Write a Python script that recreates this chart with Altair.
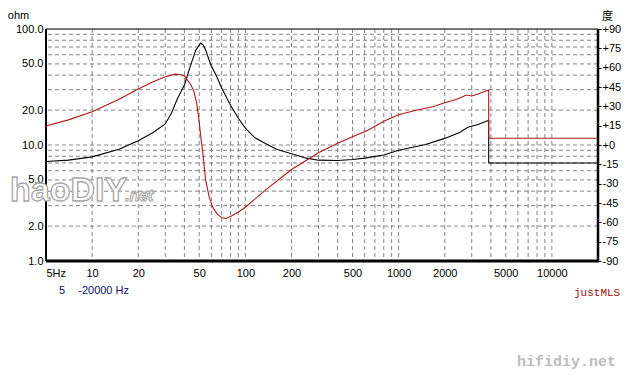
import altair as alt
import pandas as pd

# ---------------- data ----------------
imp_freq = [5, 7, 10, 15, 20, 25, 30, 33, 36, 40, 44, 47.5, 51, 53, 55, 58, 60, 65, 70, 80,
            90, 100, 115, 135, 160, 200, 250, 300, 400, 500, 600, 800, 1000, 1500, 2000,
            2500, 2830, 3300, 3800, 3870, 3870, 20000]
imp_ohm = [7.2, 7.4, 7.9, 9.2, 10.9, 12.8, 15.2, 19.0, 25.0, 32.9, 49.0, 66.0, 75.4, 73.0,
           66.0, 54.0, 48.0, 39.0, 31.0, 22.0, 17.0, 14.0, 11.6, 10.3, 9.2, 8.4, 7.7, 7.4,
           7.35, 7.5, 7.7, 8.2, 9.0, 10.1, 11.4, 12.8, 14.2, 15.0, 16.2, 16.3, 7.0, 7.0]

ph_freq = [5, 7, 10, 15, 20, 25, 30, 35, 38, 40, 44, 46, 48, 49.5, 51, 52.5, 55, 58, 61, 65,
           70, 75, 81, 90, 100, 135, 200, 300, 400, 500, 635, 800, 1000, 1300, 1670, 2000,
           2400, 2770, 3000, 3300, 3870, 3870, 20000]
ph_deg = [14.7, 19.5, 25.8, 35.5, 43.5, 49.0, 53.0, 55.0, 54.5, 53.5, 47.0, 42.0, 33.0, 22.0,
          8.0, -4.0, -27.0, -40.0, -48.0, -53.0, -56.5, -57.0, -55.0, -52.0, -48.3, -35.0,
          -19.0, -6.0, 1.3, 6.4, 11.6, 18.5, 23.5, 27.0, 29.7, 32.8, 35.5, 38.8, 38.0, 39.5,
          42.7, 5.2, 5.2]

grid_freq = [10, 20, 30, 40, 50, 60, 70, 80, 90,
             100, 200, 300, 400, 500, 600, 700, 800, 900,
             1000, 2000, 3000, 4000, 5000, 6000, 7000, 8000, 9000, 10000]
grid_ohm = [2, 3, 4, 5, 6, 7, 8, 9, 10, 20, 30, 40, 50, 60, 70, 80, 90]

x_ticks = [5, 10, 20, 50, 100, 200, 500, 1000, 2000, 5000, 10000]
ohm_ticks = [1, 2, 5, 10, 20, 50, 100]
deg_ticks = [-90, -75, -60, -45, -30, -15, 0, 15, 30, 45, 60, 75, 90]

W, H = 552, 232
FONT = "Liberation Sans"

imp_df = pd.DataFrame({"f": imp_freq, "ohm": imp_ohm, "i": range(len(imp_freq))})
ph_df = pd.DataFrame({"f": ph_freq, "deg": ph_deg, "i": range(len(ph_freq))})
gx_df = pd.DataFrame({"f": grid_freq})
gy_df = pd.DataFrame({"ohm": grid_ohm})

xscale = alt.Scale(type="log", domain=[5, 20000], nice=False)
yscale = alt.Scale(type="log", domain=[1, 100], nice=False)
pscale = alt.Scale(domain=[-90, 90], nice=False, zero=False)

xaxis = alt.Axis(values=x_ticks, title=None, grid=False, ticks=False, tickSize=0, domain=False,
                 labelExpr="datum.value == 5 ? '5Hz' : format(datum.value, 'd')",
                 labelPadding=6, labelFont=FONT, labelFontSize=11, labelColor="black",
                 labelFlush=True, labelOverlap=False)

X = alt.X("f:Q", scale=xscale, axis=xaxis)

grid_x = alt.Chart(gx_df).mark_rule(color="#858585", strokeDash=[4, 3], strokeWidth=1).encode(x=X)

grid_y = alt.Chart(gy_df).mark_rule(color="#858585", strokeDash=[4, 3], strokeWidth=1).encode(
    y=alt.Y("ohm:Q", scale=yscale,
            axis=alt.Axis(values=ohm_ticks, title="ohm", grid=False, ticks=False, tickSize=0,
                          domain=False, labelExpr="format(datum.value, '.1f')",
                          labelPadding=3, labelFont=FONT, labelFontSize=11, labelColor="black",
                          labelOverlap=False, labelFlush=False,
                          titleAngle=0, titleX=-28, titleY=-14, titleAlign="center",
                          titleBaseline="middle", titleFont=FONT, titleFontSize=11,
                          titleFontWeight="normal", titleColor="black"))
)

imp_line = alt.Chart(imp_df).mark_line(color="black", strokeWidth=1.1).encode(
    x=X, y=alt.Y("ohm:Q", scale=yscale), order="i:Q"
)

ph_line = alt.Chart(ph_df).mark_line(color="#b01818", strokeWidth=1.1).encode(
    x=X,
    y=alt.Y("deg:Q", scale=pscale,
            axis=alt.Axis(orient="right", values=deg_ticks, title="度", grid=False, ticks=True,
                          tickSize=3, tickColor="black", domain=False,
                          labelExpr="datum.value >= 0 ? '+' + datum.value : '' + datum.value",
                          labelPadding=1, labelFont=FONT, labelFontSize=11, labelColor="black",
                          labelOverlap=False, labelFlush=False,
                          titleAngle=0, titleX=9, titleY=-13, titleAlign="center",
                          titleBaseline="middle", titleFont="Noto Sans CJK SC", titleFontSize=11,
                          titleFontWeight="normal", titleColor="black")),
    order="i:Q",
)

one = pd.DataFrame({"k": [0]})

def frame(x1, x2, y1, y2, w):
    return alt.Chart(one).mark_rule(color="black", strokeWidth=w).encode(
        x=alt.value(x1), x2=alt.value(x2), y=alt.value(y1), y2=alt.value(y2))

frame_top = frame(0, W, 0, 0, 1)
frame_left = frame(0, 0, 0, H, 2)
frame_right = frame(W, W, 0, H + 1, 2.5)
frame_bottom = frame(0, W + 1, H, H, 3)

def label(text, x, y, **kw):
    df = pd.DataFrame({"t": [text]})
    return alt.Chart(df).mark_text(**kw).encode(x=alt.value(x), y=alt.value(y), text="t:N")

t_5 = label("5", 16, 262, font=FONT, fontSize=11, color="#10106e", align="center", baseline="middle")
t_range = label("-20000 Hz", 83, 262, font=FONT, fontSize=11, color="#10106e", align="right",
                baseline="middle")
t_just = label("justMLS", 528, 264, font="Liberation Mono", fontSize=11, color="#a01010",
               align="left", baseline="middle")
t_hifi = label("hifidiy.net", 471, 332, font="Liberation Mono", fontSize=15, fontWeight="bold",
               color="#bcbcbc", align="left", baseline="middle")
t_wm = label("haoDIY", -36, 172, font=FONT, fontSize=34, fontWeight="bold", color="white",
             stroke="#a8a8a8", strokeWidth=1.3, align="left", baseline="alphabetic")
t_wm2 = label(".net", 79, 172, font=FONT, fontSize=16, fontWeight="bold", fontStyle="italic",
              color="white", stroke="#a8a8a8", strokeWidth=1, align="left", baseline="alphabetic")

left_group = alt.layer(grid_x, grid_y, imp_line, frame_top, frame_left, frame_right, frame_bottom,
                       t_5, t_range, t_just, t_hifi, t_wm, t_wm2)

chart = alt.layer(left_group, ph_line).resolve_scale(y="independent").properties(
    width=W, height=H,
    autosize=alt.AutoSizeParams(type="none"),
    padding={"left": 38, "top": 21, "right": 23, "bottom": 116},
).configure_view(stroke=None).configure(background="white")

chart.save("out.html", embed_options={"renderer": "svg", "actions": False})
